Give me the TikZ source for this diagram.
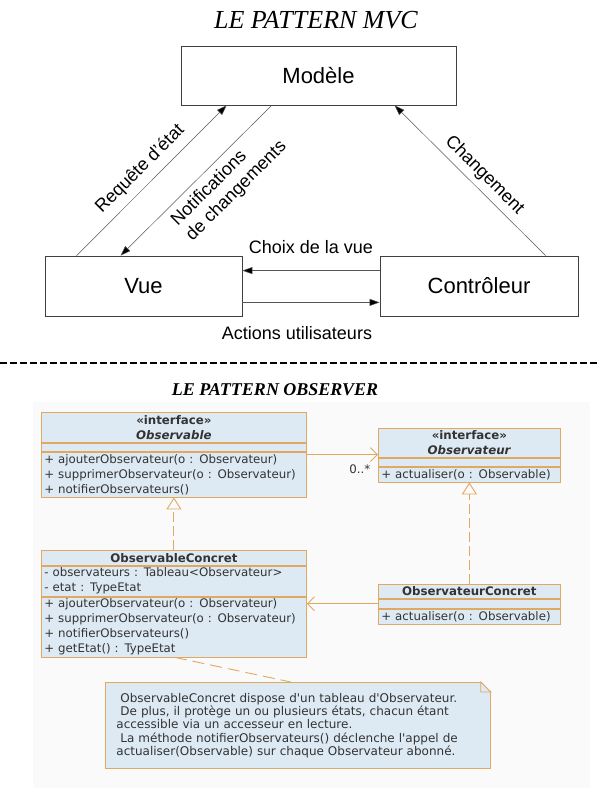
\documentclass[tikz,border=0pt]{standalone}
\usepackage{fontspec}
\setmainfont{Liberation Sans}
\newfontfamily\umlfont{DejaVu Sans}
\newfontfamily\titlefont{Liberation Serif}
\usetikzlibrary{arrows.meta,positioning}

\definecolor{umlfill}{HTML}{DDEAF4}
\definecolor{umlline}{HTML}{E0A860}
\definecolor{umltext}{HTML}{333333}
\definecolor{mvcline}{HTML}{555555}
\definecolor{obsbg}{HTML}{FAFAFA}

\tikzset{
  mvctitle/.style={font=\titlefont\itshape\fontsize{26}{30}\selectfont},
  obstitle/.style={font=\titlefont\bfseries\itshape\fontsize{18}{22}\selectfont},
  mvcbox/.style={draw=black!75, line width=0.8pt, inner sep=0pt, font=\fontsize{22}{26}\selectfont},
  mvcarrow/.style={draw=mvcline, line width=0.5pt, -{Triangle[length=10pt,width=7pt,fill=black]}},
  mvclabel/.style={font=\fontsize{18}{21}\selectfont},
  sepline/.style={line width=2.4pt, dash pattern=on 7pt off 3pt},
  umlpart/.style={draw=umlline, fill=umlfill, line width=0.8pt, anchor=north west,
    inner xsep=3pt, inner ysep=0.5pt, text=umltext, align=left,
    font=\umlfont\fontsize{11.8}{15}\selectfont},
  umlhead/.style={umlpart, align=center, font=\umlfont\bfseries\fontsize{11.8}{15}\selectfont},
  wideclass/.style={minimum width=265pt, text width=259pt},
  narrowclass/.style={minimum width=182pt, text width=176pt},
  umlnote/.style={draw=umlline, fill=umlfill, line width=0.8pt, anchor=north west,
    minimum width=385pt, minimum height=86pt, text width=363pt, inner xsep=11pt,
    align=left, text=umltext, font=\umlfont\fontsize{12}{13.3}\selectfont},
  umlassoc/.style={draw=umlline, line width=0.9pt, -{Straight Barb[length=7pt,width=14pt]}},
  umlreal/.style={draw=umlline, line width=0.9pt, dash pattern=on 10pt off 4pt,
    -{Triangle[open,length=12pt,width=15pt]}},
  umllink/.style={draw=umlline, line width=0.9pt, dash pattern=on 12pt off 6pt}
}

\begin{document}
\begin{tikzpicture}[x=1pt,y=-1pt]
  \useasboundingbox (0,0) rectangle (599,800);

  \node[mvctitle] (mvcTitle) at (316,20) {LE PATTERN MVC};
  \node[mvcbox, minimum width=275pt, minimum height=59pt] (modele) at (318.5,75.5) {Modèle};
  \node[mvcbox, minimum width=197pt, minimum height=60pt] (vue) at (143.5,286) {Vue};
  \node[mvcbox, minimum width=198pt, minimum height=60pt] (ctrl) at (479,286) {Contrôleur};

  \draw[mvcarrow] ([xshift=32pt]vue.north west) to node[mvclabel, sloped, above=4pt] {Requête d'état} ([xshift=46pt]modele.south west);
  \draw[mvcarrow] ([xshift=91pt]modele.south west) to node[mvclabel, sloped, below=3pt, pos=0.4, align=left] {Notifications\\de changements} ([xshift=76pt]vue.north west);
  \draw[mvcarrow] ([xshift=166pt]ctrl.north west) to node[mvclabel, sloped, above=2pt, pos=0.47] {Changement} ([xshift=214pt]modele.south west);
  \draw[mvcarrow] ([yshift=-15pt]ctrl.north west) to node[mvclabel, above=13pt] {Choix de la vue} ([yshift=-15pt]ctrl.north west -| vue.east);
  \draw[mvcarrow] ([yshift=14pt]vue.south east) to node[mvclabel, below=20pt, xshift=-14pt] {Actions utilisateurs} ([yshift=14pt]vue.south east -| ctrl.west);

  \draw[sepline] (0,363) -- (599,363);

  \fill[obsbg] (33,402) rectangle (590,788);
  \node[obstitle] (obsTitle) at (275,390) {LE PATTERN OBSERVER};

  \node[umlhead, wideclass, minimum height=30pt] (obsHead) at (41,412) {«interface»\\\textit{Observable}};
  \node[umlpart, wideclass, minimum height=8pt, below=0pt of obsHead] (obsAttr) {};
  \node[umlpart, wideclass, minimum height=45pt, below=0pt of obsAttr] (obsMeth) {+ ajouterObservateur(o : Observateur)\\+ supprimerObservateur(o : Observateur)\\+ notifierObservateurs()};

  \node[umlhead, narrowclass, minimum height=29pt] (obsvHead) at (378,428) {«interface»\\\textit{Observateur}};
  \node[umlpart, narrowclass, minimum height=8pt, below=0pt of obsvHead] (obsvAttr) {};
  \node[umlpart, narrowclass, minimum height=15pt, below=0pt of obsvAttr] (obsvMeth) {+ actualiser(o : Observable)};

  \node[umlhead, wideclass, minimum height=15pt] (concHead) at (41,550) {ObservableConcret};
  \node[umlpart, wideclass, minimum height=30pt, below=0pt of concHead] (concAttr) {- observateurs : Tableau<Observateur>\\- etat : TypeEtat};
  \node[umlpart, wideclass, minimum height=60pt, below=0pt of concAttr] (concMeth) {+ ajouterObservateur(o : Observateur)\\+ supprimerObservateur(o : Observateur)\\+ notifierObservateurs()\\+ getEtat() : TypeEtat};

  \node[umlhead, narrowclass, minimum height=14pt] (ocHead) at (378,584) {ObservateurConcret};
  \node[umlpart, narrowclass, minimum height=9pt, below=0pt of ocHead] (ocAttr) {};
  \node[umlpart, narrowclass, minimum height=15pt, below=0pt of ocAttr] (ocMeth) {+ actualiser(o : Observable)};

  \node[umlnote] (note) at (105,682) {\hspace*{4pt}ObservableConcret dispose d'un tableau d'Observateur.\\\hspace*{4pt}De plus, il protège un ou plusieurs états, chacun étant\\accessible via un accesseur en lecture.\\\hspace*{4pt}La méthode notifierObservateurs() déclenche l'appel de\\actualiser(Observable) sur chaque Observateur abonné.};
  \fill[obsbg] ([xshift=-10pt,yshift=1pt]note.north east) -- ([xshift=1pt,yshift=1pt]note.north east) -- ([xshift=1pt,yshift=-10pt]note.north east) -- cycle;
  \draw[umlline, line width=0.8pt, fill=umlfill] ([xshift=-10pt]note.north east) -- ([yshift=-10pt]note.north east) -- ([xshift=-10pt,yshift=-10pt]note.north east) -- cycle;

  \draw[umlassoc] ([yshift=-3pt]obsMeth.north east) to node[pos=1, anchor=north east, xshift=-4pt, yshift=-6pt, text=umltext, font=\umlfont\fontsize{11.8}{14}\selectfont] {0..*} ([yshift=-3pt]obsMeth.north east -| obsvHead.west);
  \draw[umlreal] (concHead.north) to (obsMeth.south);
  \draw[umlreal] (ocHead.north) to (obsvMeth.south);
  \draw[umlassoc] (ocAttr.west) to (ocAttr.west -| concMeth.east);
  \draw[umllink] ([xshift=1pt]concMeth.south) to ([xshift=-7pt]note.north);
\end{tikzpicture}
\end{document}
